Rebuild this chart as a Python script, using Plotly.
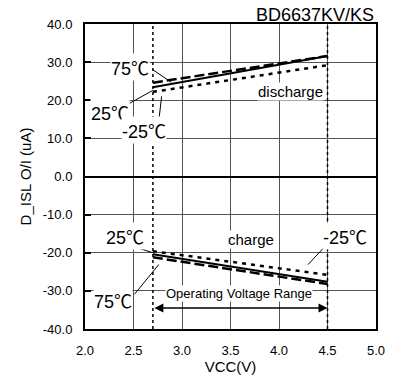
import plotly.graph_objects as go

vcc = [2.7, 4.5]
dis_75 = [24.6, 31.6]
dis_25 = [23.4, 31.6]
dis_m25 = [22.2, 29.2]
chg_25 = [-20.4, -27.6]
chg_75 = [-21.2, -28.2]
chg_m25 = [-19.6, -25.8]

x_ticks = [2.0, 2.5, 3.0, 3.5, 4.0, 4.5, 5.0]
y_ticks = [-40, -30, -20, -10, 0, 10, 20, 30, 40]
op_range = [2.7, 4.5]

FONT = "Liberation Sans, Arial, sans-serif"
DEG = "<span style='font-family:Noto Sans CJK JP'>℃</span>"
fig = go.Figure()

styles = [
    (dis_75, "10px,4px", 2.5),
    (dis_25, "solid", 2),
    (dis_m25, "4px,5px", 2.5),
    (chg_75, "10px,4px", 2.5),
    (chg_25, "solid", 2),
    (chg_m25, "4px,5px", 2.5),
]
for ys, dash, w in styles:
    fig.add_trace(go.Scatter(x=vcc, y=ys, mode="lines",
                             line=dict(color="black", dash=dash, width=w),
                             showlegend=False, hoverinfo="skip"))

for xv in op_range:
    fig.add_shape(type="line", x0=xv, x1=xv, y0=-40, y1=40, xref="x", yref="y",
                  line=dict(color="black", width=1.5, dash="dot"))

# leader lines
leaders = [
    (2.70, 28.0, 2.89, 24.7),
    (2.46, 19.2, 2.70, 22.6),
    (2.76, 14.5, 2.79, 21.0),
    (4.30, -23.1, 4.49, -17.9),
    (2.54, -18.7, 2.70, -20.0),
    (2.51, -30.9, 2.76, -23.1),
]
for x0, y0, x1, y1 in leaders:
    fig.add_shape(type="line", x0=x0, y0=y0, x1=x1, y1=y1, xref="x", yref="y",
                  line=dict(color="black", width=1))

labels = [
    ("75" + DEG, 2.46, 28.8, 18),
    ("25" + DEG, 2.26, 16.9, 18),
    ("-25" + DEG, 2.61, 12.2, 18),
    ("discharge", 4.12, 22.3, 15),
    ("charge", 3.71, -16.6, 15),
    ("-25" + DEG, 4.68, -15.6, 18),
    ("25" + DEG, 2.41, -15.6, 18),
    ("75" + DEG, 2.29, -32.5, 18),
    ("Operating Voltage Range", 3.59, -30.6, 13),
]
for t, x, y, s in labels:
    fig.add_annotation(text=t, x=x, y=y, xref="x", yref="y", showarrow=False,
                       bgcolor="white", borderpad=0,
                       font=dict(family=FONT, size=s, color="black"))

fig.add_annotation(x=op_range[1], y=-34.5, ax=op_range[0], ay=-34.5,
                   xref="x", yref="y", axref="x", ayref="y", text="",
                   showarrow=True, arrowhead=2, arrowside="end+start",
                   arrowsize=1.2, arrowwidth=1.5, arrowcolor="black")

fig.add_annotation(text="BD6637KV/KS", x=1.0, y=1.0, xref="paper", yref="paper",
                   xanchor="right", yanchor="bottom", showarrow=False, yshift=-3,
                   font=dict(family=FONT, size=18, color="black"))

fig.update_xaxes(range=[2.0, 5.0], tickvals=x_ticks,
                 ticktext=[f"{v:.1f}" for v in x_ticks],
                 showgrid=True, gridcolor="#555", gridwidth=1,
                 showline=True, linecolor="black", linewidth=2, mirror=True,
                 ticks="", zeroline=False, ticklabelstandoff=8,
                 tickfont=dict(family=FONT, size=13, color="black"),
                 title=dict(text="VCC(V)", standoff=0,
                            font=dict(family=FONT, size=15, color="black")))
fig.update_yaxes(range=[-40, 40], tickvals=y_ticks,
                 ticktext=[f"{v:.1f}" for v in y_ticks],
                 showgrid=True, gridcolor="#555", gridwidth=1,
                 showline=True, linecolor="black", linewidth=2, mirror=True,
                 ticks="inside", ticklen=6, tickwidth=2, tickcolor="black",
                 zeroline=True, zerolinecolor="black", zerolinewidth=2,
                 ticklabelstandoff=8,
                 tickfont=dict(family=FONT, size=13, color="black"),
                 title=dict(text="D_ISL O/I (uA)", standoff=8,
                            font=dict(family=FONT, size=15, color="black")))

fig.update_layout(width=397, height=380, margin=dict(l=85, r=19, t=24, b=48),
                  plot_bgcolor="white", paper_bgcolor="white", showlegend=False)

fig.write_html("out.html")
